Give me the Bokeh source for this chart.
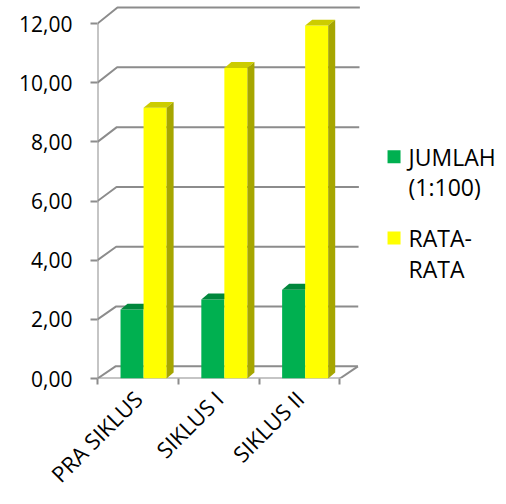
import math
import numpy as np
from bokeh.plotting import figure
from bokeh.models import FixedTicker, Range1d
from bokeh.core.properties import value
from bokeh.embed import file_html
from bokeh.resources import INLINE

# ---- data ----
categories = ["PRA SIKLUS", "SIKLUS I", "SIKLUS II"]
jumlah = [2.33, 2.67, 3.00]          # JUMLAH (1:100)
rata = [9.15, 10.50, 11.93]          # RATA-RATA
y_ticks = [0, 2, 4, 6, 8, 10, 12]
series_names = ["JUMLAH\n(1:100)", "RATA-\nRATA"]

# ---- style ----
FONT = "Open Sans"
GRID = "#8c8c8c"
GREEN, GREEN_TOP, GREEN_SIDE = "#00b050", "#00873c", "#007030"
YEL, YEL_TOP, YEL_SIDE = "#ffff00", "#cccc00", "#a6a600"

PX_X = 80.8    # pixels per category
PX_Y = 29.58   # pixels per value unit

p = figure(width=506, height=504, output_backend="svg", toolbar_location=None,
           x_range=Range1d(0, 409 / PX_X), y_range=Range1d(0, 373 / PX_Y),
           min_border_left=97, min_border_right=0, min_border_top=5, min_border_bottom=126)
p.outline_line_color = None
p.xgrid.visible = False
p.ygrid.visible = False
p.background_fill_color = "white"
p.border_fill_color = "white"

n = len(categories)

# depth offsets of the 3D box (perspective slightly grows with height)
def dxo(v):
    return 0.223 + 0.002 * v

def dyo(v):
    return 0.41 + 0.011 * v

# back-wall gridlines with diagonals
gx, gy = [], []
for v in y_ticks:
    gx.append([0, dxo(v), n + dxo(v)])
    gy.append([v, v + dyo(v), v + dyo(v)])
# floor front edge and right diagonal, front vertical axis
gx.append([0, n]); gy.append([0, 0])
gx.append([n, n + dxo(0)]); gy.append([0, dyo(0)])
gx.append([0, 0]); gy.append([0, y_ticks[-1]])
p.multi_line(gx, gy, line_color=GRID, line_width=2)

# bars
idx = np.arange(n)
g_left = idx + 0.285
g_right = idx + 0.57
y_left = g_right
y_right = idx + 0.855
bdx, bdy = 0.087, 0.2

# green bars
p.quad(left=g_left, right=g_right, bottom=0, top=jumlah, fill_color=GREEN, line_color=None)
p.patches([[l, r, r + bdx, l + bdx] for l, r in zip(g_left, g_right)],
          [[v, v, v + bdy, v + bdy] for v in jumlah],
          fill_color=GREEN_TOP, line_color=None)
# yellow bars
p.quad(left=y_left, right=y_right, bottom=0, top=rata, fill_color=YEL, line_color=None)
p.patches([[l, r, r + bdx, l + bdx] for l, r in zip(y_left, y_right)],
          [[v, v, v + bdy, v + bdy] for v in rata],
          fill_color=YEL_TOP, line_color=None)
p.patches([[r, r + bdx, r + bdx, r] for r in y_right],
          [[0, bdy, v + bdy, v] for v in rata],
          fill_color=YEL_SIDE, line_color=None)

# y axis
yax = p.yaxis[0]
yax.ticker = FixedTicker(ticks=y_ticks)
yax.major_label_overrides = {t: f"{t:.2f}".replace(".", ",") for t in y_ticks}
yax.axis_line_color = None
yax.major_tick_line_color = GRID
yax.major_tick_line_width = 2
yax.major_tick_out = 7
yax.major_tick_in = 0
yax.minor_tick_line_color = None
yax.major_label_text_font = FONT
yax.major_label_text_font_size = "21px"
yax.major_label_text_color = "black"
yax.major_label_standoff = 18

# x axis
xax = p.xaxis[0]
xax.ticker = FixedTicker(ticks=[i + 0.5 for i in range(n)], minor_ticks=list(range(n + 1)))
xax.major_label_overrides = {i + 0.5: c for i, c in enumerate(categories)}
xax.axis_line_color = None
xax.major_tick_line_color = None
xax.major_tick_out = 6
xax.minor_tick_line_color = GRID
xax.minor_tick_line_width = 2
xax.minor_tick_out = 6
xax.minor_tick_in = 0
xax.major_label_orientation = math.pi / 4
xax.major_label_text_font = FONT
xax.major_label_text_font_size = "22px"
xax.major_label_text_color = "black"
xax.major_label_standoff = 10

# legend (manual)
leg_x_marker = 3.67
leg_x_text = 3.85
leg_y = [7.50, 4.75]
line_gap = 1.04
colors = [GREEN, YEL]
p.scatter([leg_x_marker] * 2, leg_y, marker="square", size=13, fill_color=colors, line_color=None)
tx, ty, tt = [], [], []
for name, y0 in zip(series_names, leg_y):
    for k, line in enumerate(name.split("\n")):
        tx.append(leg_x_text)
        ty.append(y0 - k * line_gap)
        tt.append(line)
p.text(tx, ty, text=tt, text_font=value(FONT), text_font_size="23px",
       text_baseline="middle", text_align="left", text_color="black")

open("out.html", "w").write(file_html(p, INLINE))
